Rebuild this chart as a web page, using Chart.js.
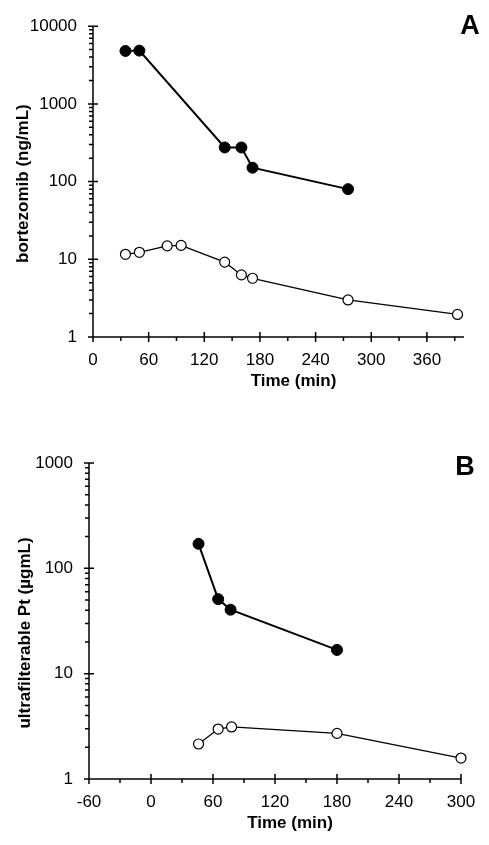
<!DOCTYPE html>
<html>
<head>
<meta charset="utf-8">
<script src="https://cdn.jsdelivr.net/npm/chart.js@4.4.0/dist/chart.umd.min.js"></script>
<style>
    html, body { margin: 0; padding: 0; background: #fff; }
    canvas { display: block; }
</style>
</head>
<body>
<canvas id="chartA" width="489" height="420"></canvas>
<canvas id="chartB" width="489" height="425"></canvas>
<script>
// ============================================
// DATA
// ============================================
// Panel A - bortezomib
const timeFilledA = [35, 50, 142, 160, 172, 275]
const bortezomibFilled = [4800, 4850, 275, 275, 151, 80]
const timeOpenA = [35, 50, 80, 95, 142, 160, 172, 275, 393]
const bortezomibOpen = [11.6, 12.3, 14.9, 15.1, 9.2, 6.3, 5.7, 3.0, 1.95]

// Panel B - ultrafilterable Pt
const timeFilledB = [46, 65, 77, 180]
const platinumFilled = [171, 51, 40.5, 16.8]
const timeOpenB = [46, 65, 78, 180, 300]
const platinumOpen = [2.15, 2.98, 3.12, 2.71, 1.58]

// tick values
const xTicksA = [0, 60, 120, 180, 240, 300, 360]
const xMinorA = [30, 90, 150, 210, 270, 330, 390]
const yTicksA = [1, 10, 100, 1000, 10000]
const xTicksB = [-60, 0, 60, 120, 180, 240, 300]
const xMinorB = [-30, 30, 90, 150, 210, 270]
const yTicksB = [1, 10, 100, 1000]

const FONT = '"Liberation Sans", Arial, Helvetica, sans-serif'

// minor log ticks 2..9 for every decade
function logMinors(decades) {
    const out = []
    decades.slice(0, -1).forEach(d => {
        for (let m = 2; m <= 9; m++) out.push(d * m)
    })
    return out
}

// ============================================
// AXES + TEXT PLUGIN
// ============================================
const axisDecor = {
    id: 'axisDecor',
    beforeDatasetsDraw(chart, args, opts) {
        const { ctx, scales: { x, y }, chartArea: a } = chart
        ctx.save()
        ctx.strokeStyle = '#000'
        ctx.lineWidth = 1.5
        ctx.beginPath()
        ctx.moveTo(a.left, a.top)
        ctx.lineTo(a.left, a.bottom)
        ctx.lineTo(a.right, a.bottom)
        opts.xMajor.forEach(v => {
            const px = x.getPixelForValue(v)
            ctx.moveTo(px, a.bottom - 5); ctx.lineTo(px, a.bottom + 5)
        })
        opts.xMinor.forEach(v => {
            const px = x.getPixelForValue(v)
            ctx.moveTo(px, a.bottom); ctx.lineTo(px, a.bottom + 4)
        })
        opts.yMajor.forEach(v => {
            const py = y.getPixelForValue(v)
            ctx.moveTo(a.left - 5, py); ctx.lineTo(a.left + 5, py)
        })
        logMinors(opts.yMajor).forEach(v => {
            const py = y.getPixelForValue(v)
            ctx.moveTo(a.left - 4, py); ctx.lineTo(a.left, py)
        })
        ctx.stroke()
        ctx.restore()
    },
    afterDraw(chart, args, opts) {
        const { ctx, chartArea: a } = chart
        ctx.save()
        ctx.fillStyle = '#000'
        ctx.textAlign = 'center'
        ctx.textBaseline = 'middle'
        ctx.font = `bold 17px ${FONT}`
        ctx.fillText(opts.xTitle, (a.left + a.right) / 2 + 15, a.bottom + 44)

        ctx.save()
        ctx.translate(opts.yTitleX, (a.top + a.bottom) / 2 + opts.yTitleShift)
        ctx.rotate(-Math.PI / 2)
        ctx.fillText(opts.yTitle, 0, 0)
        ctx.restore()

        ctx.font = `bold 27px ${FONT}`
        ctx.fillText(opts.letter, opts.letterX, opts.letterY)
        ctx.restore()
    }
}

// ============================================
// BUILD CHART
// ============================================
function buildChart(id, cfg) {
    const toPts = (xs, ys) => xs.map((t, i) => ({ x: t, y: ys[i] }))

    return new Chart(document.getElementById(id), {
        type: 'line',
        data: {
            datasets: [{
                data: toPts(cfg.tFilled, cfg.vFilled),
                borderColor: '#000',
                borderWidth: 2,
                pointRadius: 5.5,
                pointBackgroundColor: '#000',
                pointBorderColor: '#000',
                pointBorderWidth: 1,
                clip: false
            }, {
                data: toPts(cfg.tOpen, cfg.vOpen),
                borderColor: '#000',
                borderWidth: 1.3,
                pointRadius: 5,
                pointBackgroundColor: '#fff',
                pointBorderColor: '#000',
                pointBorderWidth: 1.2,
                clip: false
            }]
        },
        options: {
            responsive: false,
            animation: false,
            events: [],
            layout: { padding: cfg.padding },
            plugins: {
                legend: { display: false },
                tooltip: { enabled: false },
                axisDecor: cfg.decor
            },
            scales: {
                x: {
                    type: 'linear',
                    min: cfg.xMin,
                    max: cfg.xMax,
                    grid: { display: false, drawTicks: false },
                    border: { display: false },
                    afterBuildTicks: s => { s.ticks = cfg.xTicks.map(v => ({ value: v })) },
                    afterFit: s => { s.height = cfg.xHeight },
                    ticks: {
                        color: '#000',
                        padding: 13,
                        maxRotation: 0,
                        font: { family: FONT, size: 17 },
                        callback: v => String(v)
                    }
                },
                y: {
                    type: 'logarithmic',
                    min: cfg.yMin,
                    max: cfg.yMax,
                    grid: { display: false, drawTicks: false },
                    border: { display: false },
                    afterBuildTicks: s => { s.ticks = cfg.yTicks.map(v => ({ value: v })) },
                    afterFit: s => { s.width = cfg.yWidth },
                    ticks: {
                        color: '#000',
                        padding: 16,
                        font: { family: FONT, size: 17 },
                        callback: v => String(v)
                    }
                }
            }
        },
        plugins: [axisDecor]
    })
}

buildChart('chartA', {
    tFilled: timeFilledA, vFilled: bortezomibFilled,
    tOpen: timeOpenA, vOpen: bortezomibOpen,
    xMin: 0, xMax: 400, xTicks: xTicksA,
    yMin: 1, yMax: 10000, yTicks: yTicksA,
    padding: { top: 21, right: 25, left: 0, bottom: 0 },
    xHeight: 83, yWidth: 93,
    decor: {
        xMajor: xTicksA, xMinor: xMinorA, yMajor: yTicksA,
        xTitle: 'Time (min)', yTitle: 'bortezomib (ng/mL)',
        yTitleX: 23, yTitleShift: 2,
        letter: 'A', letterX: 470, letterY: 27
    }
})

buildChart('chartB', {
    tFilled: timeFilledB, vFilled: platinumFilled,
    tOpen: timeOpenB, vOpen: platinumOpen,
    xMin: -60, xMax: 300, xTicks: xTicksB,
    yMin: 1, yMax: 1000, yTicks: yTicksB,
    padding: { top: 43, right: 28, left: 0, bottom: 0 },
    xHeight: 66, yWidth: 89,
    decor: {
        xMajor: xTicksB, xMinor: xMinorB, yMajor: yTicksB,
        xTitle: 'Time (min)', yTitle: 'ultrafilterable Pt (µgmL)',
        yTitleX: 25, yTitleShift: 12,
        letter: 'B', letterX: 465, letterY: 48
    }
})
</script>
</body>
</html>
